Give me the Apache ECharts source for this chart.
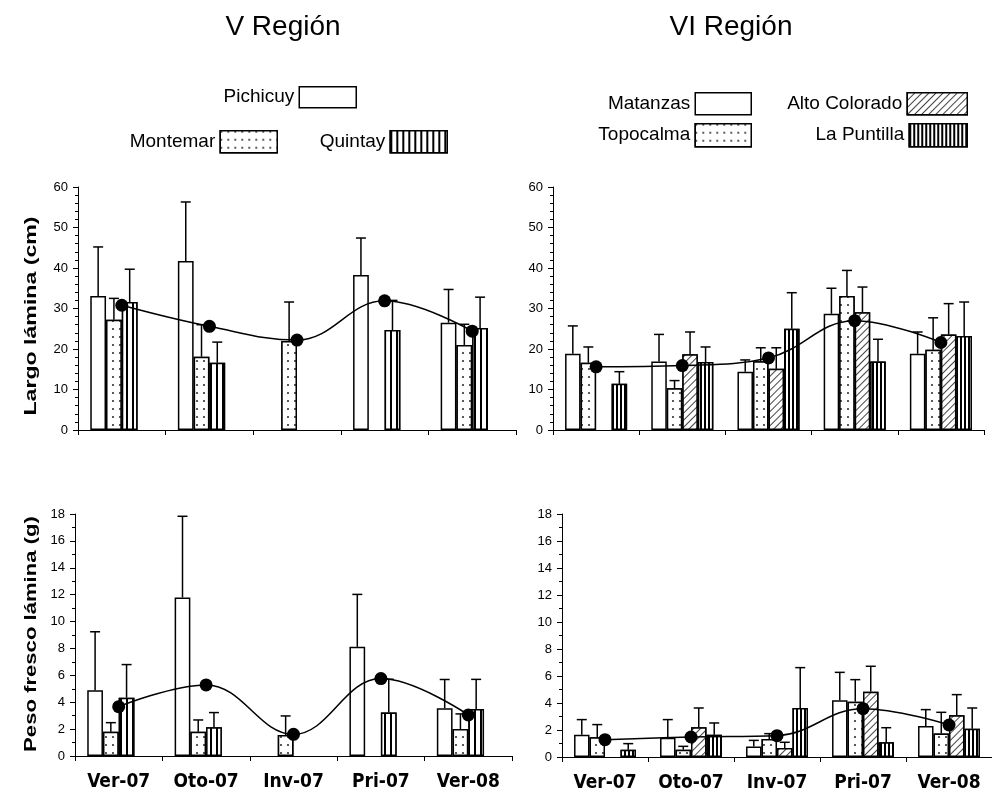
<!DOCTYPE html>
<html>
<head>
<meta charset="utf-8">
<script src="https://cdn.jsdelivr.net/npm/echarts@6/dist/echarts.min.js"></script>
<style>html,body{margin:0;padding:0;background:#fff}#c{width:992px;height:795px}</style>
</head>
<body>
<div id="c"></div>
<script>
// ---------- DATA ----------
const categories = ['Ver-07', 'Oto-07', 'Inv-07', 'Pri-07', 'Ver-08'];
const largoTicks = [0, 10, 20, 30, 40, 50, 60];
const pesoTicks = [0, 2, 4, 6, 8, 10, 12, 14, 16, 18];

// V Región – Largo lámina (cm): mean and SD (upper error bar)
const pichicuyLargo     = [33.1, 41.7, null, 38.3, 26.5];
const pichicuyLargoSD   = [12.1, 14.6, null, 9.1, 8.2];
const montemarLargo     = [27.2, 18.1, 22.0, null, 21.0];
const montemarLargoSD   = [5.3, 7.9, 9.6, null, 5.1];
const quintayLargo      = [31.6, 16.6, null, 24.7, 25.2];
const quintayLargoSD    = [8.1, 5.1, null, 7.3, 7.6];
const vLargoMean        = [30.8, 25.6, 22.2, 31.9, 24.4];

// VI Región – Largo lámina (cm)
const matanzasLargo     = [18.8, 16.9, 14.4, 28.7, 18.8];
const matanzasLargoSD   = [6.9, 6.7, 2.9, 6.3, 5.4];
const topocalmaLargo    = [16.6, 10.3, 17.0, 33.1, 19.8];
const topocalmaLargoSD  = [3.9, 1.9, 3.3, 6.3, 7.9];
const altoLargo         = [null, 18.7, 15.1, 29.1, 23.6];
const altoLargoSD       = [null, 5.5, 5.2, 6.2, 7.6];
const puntillaLargo     = [11.4, 16.8, 25.0, 16.9, 23.2];
const puntillaLargoSD   = [3.0, 3.7, 8.9, 5.5, 8.4];
const viLargoMean       = [15.6, 15.9, 17.8, 27.0, 21.6];

// V Región – Peso fresco lámina (g)
const pichicuyPeso      = [4.89, 11.79, null, 8.12, 3.55];
const pichicuyPesoSD    = [4.35, 6.04, null, 3.90, 2.14];
const montemarPeso      = [1.81, 1.81, 1.56, null, 2.01];
const montemarPesoSD    = [0.67, 0.87, 1.42, null, 1.12];
const quintayPeso       = [4.34, 2.14, null, 3.23, 3.50];
const quintayPesoSD     = [2.46, 1.09, null, 2.48, 2.20];
const vPesoMean         = [3.67, 5.29, 1.61, 5.76, 3.05];

// VI Región – Peso fresco lámina (g)
const matanzasPeso      = [1.65, 1.43, 0.77, 4.20, 2.30];
const matanzasPesoSD    = [1.12, 1.34, 0.46, 2.07, 1.21];
const topocalmaPeso     = [1.46, 0.54, 1.33, 4.10, 1.75];
const topocalmaPesoSD   = [0.94, 0.25, 0.40, 1.63, 1.56];
const altoPeso          = [null, 2.20, 0.67, 4.84, 3.09];
const altoPesoSD        = [null, 1.43, 0.42, 1.88, 1.53];
const puntillaPeso      = [0.54, 1.65, 3.63, 1.09, 2.10];
const puntillaPesoSD    = [0.45, 0.87, 2.99, 1.08, 1.53];
const viPesoMean        = [1.28, 1.48, 1.58, 3.58, 2.37];

// ---------- STYLES ----------
const GAP = 0.28;
const FONT = 'Liberation Sans, Arial, sans-serif';
const NARROW = '"DejaVu Sans Condensed", "Liberation Sans Narrow", "Arial Narrow", "Liberation Sans", sans-serif';
const decals = {
  plain: null,
  dots: { symbol: 'circle', symbolSize: 1, dashArrayX: [2, 5], dashArrayY: [2, 6], color: '#222', backgroundColor: '#fff' },
  vlines: { symbol: 'rect', symbolSize: 1, dashArrayX: [1.2, 4], dashArrayY: [10, 0], color: '#000', backgroundColor: '#fff' },
  vlinesDense: { symbol: 'rect', symbolSize: 1, dashArrayX: [1.2, 1.8], dashArrayY: [10, 0], color: '#000', backgroundColor: '#fff' },
  diag: { symbol: 'rect', symbolSize: 1, dashArrayX: [1, 3.5], dashArrayY: [10, 0], rotation: Math.PI / 4, color: '#444', backgroundColor: '#fff' }
};

function barSeries(name, data, grid, decal) {
  const itemStyle = { color: '#fff', borderColor: '#000', borderWidth: 1.5 };
  if (decal) itemStyle.decal = decal;
  return { type: 'bar', name, data, xAxisIndex: grid, yAxisIndex: grid, barGap: '0%', barCategoryGap: (GAP * 100) + '%', itemStyle, z: 2, animation: false, emphasis: { disabled: true } };
}

function errRender(params, api) {
  const cat = api.value(0), idx = api.value(1), v = api.value(2), top = api.value(3);
  const p0 = api.coord([cat, v]);
  const p1 = api.coord([cat, top]);
  const catW = api.size([1, 0])[0];
  const bw = catW * (1 - GAP) / 4;
  const x = p0[0] - 2 * bw + (idx + 0.5) * bw;
  return {
    type: 'group',
    children: [
      { type: 'line', shape: { x1: x, y1: p0[1], x2: x, y2: p1[1] }, style: { stroke: '#000', lineWidth: 1.5 } },
      { type: 'line', shape: { x1: x - 5, y1: p1[1], x2: x + 5, y2: p1[1] }, style: { stroke: '#000', lineWidth: 1.5 } }
    ]
  };
}

function errSeries(grid, groups) {
  const data = [];
  groups.forEach((g, bi) => {
    if (!g) return;
    g[0].forEach((v, ci) => {
      if (v != null && g[1][ci] != null) data.push([ci, bi, v, +(v + g[1][ci]).toFixed(3)]);
    });
  });
  return { type: 'custom', name: 'err' + grid, xAxisIndex: grid, yAxisIndex: grid, renderItem: errRender, data, encode: { x: 0, y: [2, 3] }, z: 5, animation: false, silent: true };
}

function meanSeries(grid, data) {
  return { type: 'line', name: 'mean' + grid, data, xAxisIndex: grid, yAxisIndex: grid, smooth: 0.4, symbol: 'circle', symbolSize: 13,
    itemStyle: { color: '#000' }, lineStyle: { color: '#000', width: 1.5 }, z: 10, animation: false, silent: true };
}

function xAxis(grid, showLabels) {
  return { type: 'category', gridIndex: grid, data: categories, boundaryGap: true,
    axisLine: { lineStyle: { color: '#000', width: 1 } },
    axisTick: { show: true, interval: 0, length: 5, lineStyle: { color: '#000' } },
    axisLabel: { show: showLabels, interval: 0, margin: 17, color: '#000', fontWeight: 'bold', fontSize: 19, fontFamily: NARROW } };
}

function yAxis(grid, ticks, minorSplit) {
  const step = ticks[1] - ticks[0];
  return { type: 'value', gridIndex: grid, min: ticks[0], max: ticks[ticks.length - 1], interval: step,
    axisLine: { show: true, lineStyle: { color: '#000', width: 1 } },
    axisTick: { show: true, length: 5, lineStyle: { color: '#000' } },
    minorTick: { show: true, splitNumber: minorSplit, length: 3, lineStyle: { color: '#000' } },
    splitLine: { show: false },
    axisLabel: { color: '#000', fontSize: 13, fontFamily: FONT, margin: 10 } };
}

function legend(name, right, top, w, h) {
  return { data: [name], right, top, orient: 'horizontal', align: 'right', itemWidth: w, itemHeight: h, padding: 0, icon: 'rect',
    selectedMode: false, itemStyle: { borderColor: '#000', borderWidth: 1.5 },
    textStyle: { fontSize: 19, fontFamily: FONT, color: '#000' } };
}

const option = {
  backgroundColor: '#fff',
  animation: false,
  grid: [
    { left: 78, top: 187, width: 438, height: 243 },
    { left: 553, top: 187, width: 431, height: 243 },
    { left: 75, top: 514, width: 437, height: 242 },
    { left: 562, top: 514, width: 436, height: 243 }
  ],
  xAxis: [xAxis(0, false), xAxis(1, false), xAxis(2, true), xAxis(3, true)],
  yAxis: [yAxis(0, largoTicks, 5), yAxis(1, largoTicks, 5), yAxis(2, pesoTicks, 2), yAxis(3, pesoTicks, 2)],
  legend: [
    legend('Pichicuy', 635, 86, 57, 21),
    legend('Montemar', 714, 130, 57, 22),
    legend('Quintay', 544, 130, 57, 22),
    legend('Matanzas', 240, 92, 56, 22),
    legend('Topocalma', 240, 123, 56, 23),
    legend('Alto Colorado', 24, 92, 60, 22),
    legend('La Puntilla', 24, 123, 58, 23)
  ],
  graphic: [
    { type: 'text', style: { text: 'V Región', font: '28px ' + FONT, fill: '#000', x: 283, y: 27, align: 'center', verticalAlign: 'middle' } },
    { type: 'text', style: { text: 'VI Región', font: '28px ' + FONT, fill: '#000', x: 731, y: 27, align: 'center', verticalAlign: 'middle' } },
    { type: 'text', x: 31, y: 316, rotation: Math.PI / 2, scaleX: 1.36, style: { text: 'Largo lámina (cm)', font: 'bold 17px ' + FONT, fill: '#000', align: 'center', verticalAlign: 'middle' } },
    { type: 'text', x: 31, y: 634, rotation: Math.PI / 2, scaleX: 1.3, style: { text: 'Peso fresco lámina (g)', font: 'bold 17px ' + FONT, fill: '#000', align: 'center', verticalAlign: 'middle' } }
  ],
  series: [
    barSeries('Pichicuy', pichicuyLargo, 0, decals.plain),
    barSeries('Montemar', montemarLargo, 0, decals.dots),
    barSeries('Quintay', quintayLargo, 0, decals.vlines),
    barSeries('_blank0', [null, null, null, null, null], 0, null),
    errSeries(0, [[pichicuyLargo, pichicuyLargoSD], [montemarLargo, montemarLargoSD], [quintayLargo, quintayLargoSD]]),
    meanSeries(0, vLargoMean),

    barSeries('Matanzas', matanzasLargo, 1, decals.plain),
    barSeries('Topocalma', topocalmaLargo, 1, decals.dots),
    barSeries('Alto Colorado', altoLargo, 1, decals.diag),
    barSeries('La Puntilla', puntillaLargo, 1, decals.vlinesDense),
    errSeries(1, [[matanzasLargo, matanzasLargoSD], [topocalmaLargo, topocalmaLargoSD], [altoLargo, altoLargoSD], [puntillaLargo, puntillaLargoSD]]),
    meanSeries(1, viLargoMean),

    barSeries('Pichicuy', pichicuyPeso, 2, decals.plain),
    barSeries('Montemar', montemarPeso, 2, decals.dots),
    barSeries('Quintay', quintayPeso, 2, decals.vlines),
    barSeries('_blank2', [null, null, null, null, null], 2, null),
    errSeries(2, [[pichicuyPeso, pichicuyPesoSD], [montemarPeso, montemarPesoSD], [quintayPeso, quintayPesoSD]]),
    meanSeries(2, vPesoMean),

    barSeries('Matanzas', matanzasPeso, 3, decals.plain),
    barSeries('Topocalma', topocalmaPeso, 3, decals.dots),
    barSeries('Alto Colorado', altoPeso, 3, decals.diag),
    barSeries('La Puntilla', puntillaPeso, 3, decals.vlinesDense),
    errSeries(3, [[matanzasPeso, matanzasPesoSD], [topocalmaPeso, topocalmaPesoSD], [altoPeso, altoPesoSD], [puntillaPeso, puntillaPesoSD]]),
    meanSeries(3, viPesoMean)
  ]
};

const chart = echarts.init(document.getElementById('c'), null, { renderer: 'canvas' });
chart.setOption(option);
</script>
</body>
</html>
